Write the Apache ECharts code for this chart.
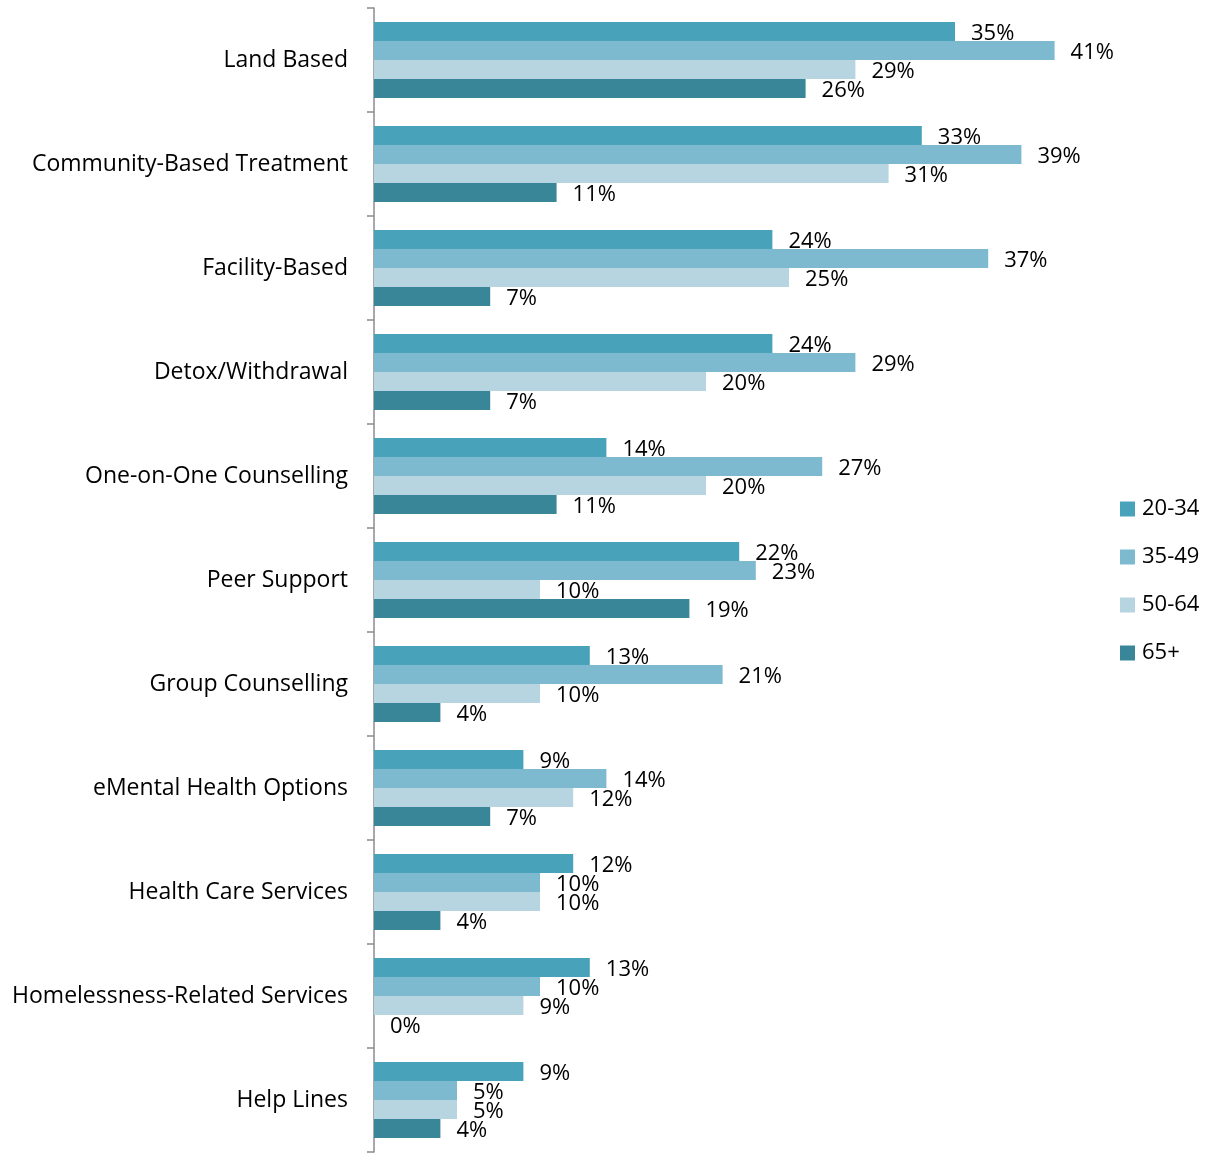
<!DOCTYPE html>
<html>
<head>
<meta charset="utf-8">
<style>
  html, body { margin: 0; padding: 0; background: #fff; }
  #chart { width: 1210px; height: 1153px; }
</style>
<script src="https://cdn.jsdelivr.net/npm/echarts@6/dist/echarts.min.js"></script>
</head>
<body>
<div id="chart"></div>
<script>
// Service types, listed top to bottom
const categories = [
  'Land Based',
  'Community-Based Treatment',
  'Facility-Based',
  'Detox/Withdrawal',
  'One-on-One Counselling',
  'Peer Support',
  'Group Counselling',
  'eMental Health Options',
  'Health Care Services',
  'Homelessness-Related Services',
  'Help Lines'
];

// Age groups
const ageGroups = ['20-34', '35-49', '50-64', '65+'];

// Percent of respondents per age group
const age20to34 = [35, 33, 24, 24, 14, 22, 13, 9, 12, 13, 9];
const age35to49 = [41, 39, 37, 29, 27, 23, 21, 14, 10, 10, 5];
const age50to64 = [29, 31, 25, 20, 20, 10, 10, 12, 10, 9, 5];
const age65plus = [26, 11, 7, 7, 11, 19, 4, 7, 4, 0, 4];

const groupValues = [age20to34, age35to49, age50to64, age65plus];
const colors = ['#48a2ba', '#7dbad0', '#b7d5e0', '#3a8699'];

const FONT = '"Open Sans", Lato, sans-serif';

const chart = echarts.init(document.getElementById('chart'), null, { renderer: 'canvas' });

chart.setOption({
  animation: false,
  color: colors,
  grid: {
    left: 374,
    top: 8,
    width: 747,
    height: 1144,
    containLabel: false
  },
  legend: {
    orient: 'vertical',
    left: 1115,
    top: 493,
    itemWidth: 15,
    itemHeight: 15,
    itemGap: 26,
    icon: 'rect',
    textStyle: { fontFamily: FONT, fontSize: 22, lineHeight: 22, color: '#000', padding: [0, 0, 0, 2] },
    data: ageGroups
  },
  xAxis: {
    type: 'value',
    min: 0,
    max: 45,
    show: false
  },
  yAxis: {
    type: 'category',
    inverse: true,
    data: categories,
    axisLine: { show: true, lineStyle: { color: '#8c8c8c', width: 1.5 } },
    axisTick: { show: true, length: 7, lineStyle: { color: '#8c8c8c', width: 1.5 } },
    axisLabel: { margin: 26, fontFamily: FONT, fontSize: 23, color: '#000' },
    splitLine: { show: false }
  },
  series: groupValues.map((vals, i) => ({
    name: ageGroups[i],
    type: 'bar',
    data: vals,
    barGap: '0%',
    barCategoryGap: '27%',
    itemStyle: { color: colors[i] },
    label: {
      show: true,
      position: 'right',
      distance: 16,
      offset: [0, 2],
      formatter: '{c}%',
      fontFamily: FONT,
      fontSize: 22,
      color: '#000'
    }
  }))
});
</script>
</body>
</html>
